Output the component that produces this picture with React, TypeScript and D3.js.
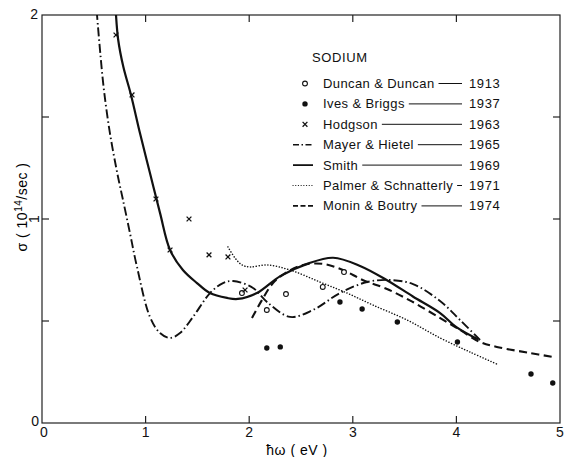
import React, { useEffect, useRef } from "react";
import * as d3 from "d3";

// Optical relaxation rate of sodium, sigma (10^14/sec) vs photon energy (eV)
const W = 567;
const H = 457;

const duncanE = [1.93, 2.17, 2.355, 2.71, 2.915];
const duncanS = [0.637, 0.554, 0.632, 0.667, 0.74];

const ivesE = [2.17, 2.3, 2.876, 3.09, 3.43, 4.01, 4.72, 4.93];
const ivesS = [0.368, 0.373, 0.593, 0.559, 0.495, 0.397, 0.24, 0.196];

const hodgsonE = [0.714, 0.869, 1.1, 1.236, 1.419, 1.612, 1.795, 1.96];
const hodgsonS = [1.902, 1.608, 1.098, 0.848, 1.0, 0.824, 0.814, 0.652];

const mayerE = [0.515, 0.531, 0.56, 0.598, 0.656, 0.734, 0.782, 0.849, 0.917, 1.042, 1.139, 1.236, 1.332, 1.458, 1.622, 1.747, 1.844, 2.037, 2.172, 2.394, 2.616, 2.876, 3.137, 3.359, 3.581, 3.842, 4.035, 4.228];
const mayerS = [2.1, 2.0, 1.828, 1.632, 1.42, 1.206, 1.093, 0.931, 0.765, 0.52, 0.441, 0.417, 0.441, 0.52, 0.637, 0.686, 0.696, 0.662, 0.593, 0.52, 0.554, 0.637, 0.691, 0.701, 0.681, 0.598, 0.505, 0.407];

const smithE = [0.7, 0.71, 0.735, 0.785, 0.859, 0.946, 1.042, 1.139, 1.236, 1.36, 1.496, 1.62, 1.786, 1.89, 2.075, 2.3, 2.56, 2.81, 3.07, 3.33, 3.58, 3.84, 4.0, 4.21];
const smithS = [2.1, 2.03, 1.88, 1.746, 1.608, 1.42, 1.225, 1.03, 0.848, 0.75, 0.686, 0.637, 0.613, 0.608, 0.637, 0.72, 0.78, 0.81, 0.77, 0.7, 0.62, 0.54, 0.47, 0.41];

const palmerE = [1.795, 1.863, 1.93, 2.008, 2.172, 2.394, 2.683, 2.944, 3.195, 3.523, 3.842, 4.13, 4.39];
const palmerS = [0.863, 0.809, 0.775, 0.765, 0.775, 0.75, 0.691, 0.637, 0.578, 0.505, 0.417, 0.348, 0.289];

const moninE = [2.027, 2.12, 2.23, 2.365, 2.52, 2.71, 2.905, 3.1, 3.33, 3.58, 3.84, 4.035, 4.228, 4.39, 4.71, 4.93];
const moninS = [0.515, 0.6, 0.686, 0.74, 0.775, 0.78, 0.75, 0.7, 0.657, 0.593, 0.515, 0.456, 0.397, 0.373, 0.343, 0.324];

const xTicks = [0, 1, 2, 3, 4, 5];
const yTicks = [0, 0.5, 1, 1.5, 2];

const legendNames = [
  "Duncan & Duncan",
  "Ives & Briggs",
  "Hodgson",
  "Mayer & Hietel",
  "Smith",
  "Palmer & Schnatterly",
  "Monin & Boutry",
];
const legendYears = ["1913", "1937", "1963", "1965", "1969", "1971", "1974"];
const legendKinds = ["open", "filled", "cross", "dashdot", "solid", "dotted", "dashed"];

const FONT = "'Liberation Sans', Arial, sans-serif";

const zip = (xs: number[], ys: number[]) => xs.map((v, i) => [v, ys[i]] as [number, number]);

export default function App() {
  const ref = useRef<SVGSVGElement | null>(null);

  useEffect(() => {
    const svg = d3.select(ref.current);
    svg.selectAll("*").remove();

    const x = d3.scaleLinear().domain([0, 5]).range([42, 560]);
    const y = d3.scaleLinear().domain([0, 2]).range([423, 15]);

    svg
      .append("defs")
      .append("clipPath")
      .attr("id", "plot-clip")
      .append("rect")
      .attr("x", x(0))
      .attr("y", y(2))
      .attr("width", x(5) - x(0))
      .attr("height", y(0) - y(2));

    // frame
    svg
      .append("rect")
      .attr("x", x(0))
      .attr("y", y(2))
      .attr("width", x(5) - x(0))
      .attr("height", y(0) - y(2))
      .attr("fill", "none")
      .attr("stroke", "#222")
      .attr("stroke-width", 1.2);

    // inward ticks on all four sides
    const tl = 7;
    const ticks = svg.append("g").attr("stroke", "#222").attr("stroke-width", 1.2);
    xTicks.slice(1, -1).forEach((t) => {
      ticks.append("line").attr("x1", x(t)).attr("x2", x(t)).attr("y1", y(0)).attr("y2", y(0) - tl);
      ticks.append("line").attr("x1", x(t)).attr("x2", x(t)).attr("y1", y(2)).attr("y2", y(2) + tl);
    });
    yTicks.slice(1, -1).forEach((t) => {
      ticks.append("line").attr("x1", x(0)).attr("x2", x(0) + tl).attr("y1", y(t)).attr("y2", y(t));
      ticks.append("line").attr("x1", x(5)).attr("x2", x(5) - tl).attr("y1", y(t)).attr("y2", y(t));
    });

    // tick labels
    const lab = svg.append("g").attr("font-family", FONT).attr("font-size", 14).attr("fill", "#111");
    xTicks.forEach((t) => {
      lab
        .append("text")
        .attr("x", x(t) + (t === 0 ? 2 : 0))
        .attr("y", 437)
        .attr("text-anchor", "middle")
        .text(String(t));
    });
    lab.append("text").attr("x", 38).attr("y", y(2) + 4).attr("text-anchor", "end").text("2");
    lab.append("text").attr("x", 39).attr("y", y(0) + 3).attr("text-anchor", "end").text("0");
    lab
      .append("text")
      .attr("transform", `translate(${39},${y(1)}) rotate(-90)`)
      .attr("text-anchor", "middle")
      .text("1");

    // axis titles
    svg
      .append("text")
      .attr("x", 297)
      .attr("y", 455)
      .attr("text-anchor", "middle")
      .attr("font-family", FONT)
      .attr("font-size", 14)
      .attr("letter-spacing", 0.5)
      .text("ħω ( eV )");

    const yt = svg
      .append("text")
      .attr("transform", `translate(27,207) rotate(-90)`)
      .attr("text-anchor", "middle")
      .attr("font-family", FONT)
      .attr("font-size", 14)
      .attr("letter-spacing", 0.5);
    yt.append("tspan").text("σ ( 10");
    yt.append("tspan").attr("font-size", 10).attr("dy", -5).text("14");
    yt.append("tspan").attr("dy", 5).text("/sec )");

    const plot = svg.append("g").attr("clip-path", "url(#plot-clip)");
    const line = d3
      .line<[number, number]>()
      .x((d) => x(d[0]))
      .y((d) => y(d[1]))
      .curve(d3.curveCatmullRom.alpha(0.5));

    const styles: Record<string, { dash: string; width: number; cap: string }> = {
      solid: { dash: "none", width: 2.2, cap: "butt" },
      dashdot: { dash: "9 3 1.5 3", width: 1.9, cap: "butt" },
      dotted: { dash: "0.1 2.8", width: 1.5, cap: "round" },
      dashed: { dash: "8 4.5", width: 2.1, cap: "butt" },
    };

    const curves: [string, [number, number][]][] = [
      ["dashdot", zip(mayerE, mayerS)],
      ["solid", zip(smithE, smithS)],
      ["dotted", zip(palmerE, palmerS)],
      ["dashed", zip(moninE, moninS)],
    ];
    curves.forEach(([kind, pts]) => {
      const s = styles[kind];
      plot
        .append("path")
        .attr("d", line(pts))
        .attr("fill", "none")
        .attr("stroke", "#111")
        .attr("stroke-width", s.width)
        .attr("stroke-dasharray", s.dash)
        .attr("stroke-linecap", s.cap);
    });

    const drawMarker = (g: any, kind: string, cx: number, cy: number) => {
      if (kind === "open") {
        g.append("circle").attr("cx", cx).attr("cy", cy).attr("r", 2.4).attr("fill", "#fff").attr("stroke", "#111").attr("stroke-width", 1.1);
      } else if (kind === "filled") {
        g.append("circle").attr("cx", cx).attr("cy", cy).attr("r", 2.7).attr("fill", "#111");
      } else if (kind === "cross") {
        const r = 2.4;
        g.append("path")
          .attr("d", `M${cx - r},${cy - r}L${cx + r},${cy + r}M${cx - r},${cy + r}L${cx + r},${cy - r}`)
          .attr("stroke", "#111")
          .attr("stroke-width", 1.3);
      }
    };

    zip(duncanE, duncanS).forEach(([e, s]) => drawMarker(plot, "open", x(e), y(s)));
    zip(ivesE, ivesS).forEach(([e, s]) => drawMarker(plot, "filled", x(e), y(s)));
    zip(hodgsonE, hodgsonS).forEach(([e, s]) => drawMarker(plot, "cross", x(e), y(s)));

    // legend
    const lg = svg.append("g").attr("font-family", FONT).attr("font-size", 13).attr("fill", "#111");
    lg.append("text").attr("x", 312).attr("y", 62).attr("letter-spacing", 0.6).text("SODIUM");
    const rowY = (i: number) => 83.5 + i * 20.4;
    const textX = 323;
    const lineEnd = 462;
    const yearX = 469;
    legendNames.forEach((name, i) => {
      const cy = rowY(i);
      const kind = legendKinds[i];
      if (kind === "open" || kind === "filled" || kind === "cross") {
        drawMarker(lg, kind, 305, cy);
      } else {
        const s = styles[kind];
        const sampleDash: Record<string, string> = {
          solid: "none",
          dashdot: "6 2.5 1.5 2.5",
          dotted: "0.1 2.6",
          dashed: "5 2.5",
        };
        lg.append("line")
          .attr("x1", 293)
          .attr("x2", 313)
          .attr("y1", cy)
          .attr("y2", cy)
          .attr("stroke", "#111")
          .attr("stroke-width", s.width * 0.8)
          .attr("stroke-dasharray", sampleDash[kind])
          .attr("stroke-linecap", s.cap);
      }
      const t = lg.append("text").attr("x", textX).attr("y", cy + 4.5).attr("letter-spacing", 0.4).text(name);
      const len = (t.node() as SVGTextElement).getComputedTextLength();
      lg.append("line")
        .attr("x1", textX + len + 4)
        .attr("x2", lineEnd)
        .attr("y1", cy)
        .attr("y2", cy)
        .attr("stroke", "#111")
        .attr("stroke-width", 1);
      lg.append("text").attr("x", yearX).attr("y", cy + 4.5).attr("letter-spacing", 0.6).text(legendYears[i]);
    });
  }, []);

  return (
    <svg
      ref={ref}
      width={W}
      height={H}
      viewBox={`0 0 ${W} ${H}`}
      style={{ position: "absolute", left: 0, top: 0, background: "#fff" }}
    />
  );
}
